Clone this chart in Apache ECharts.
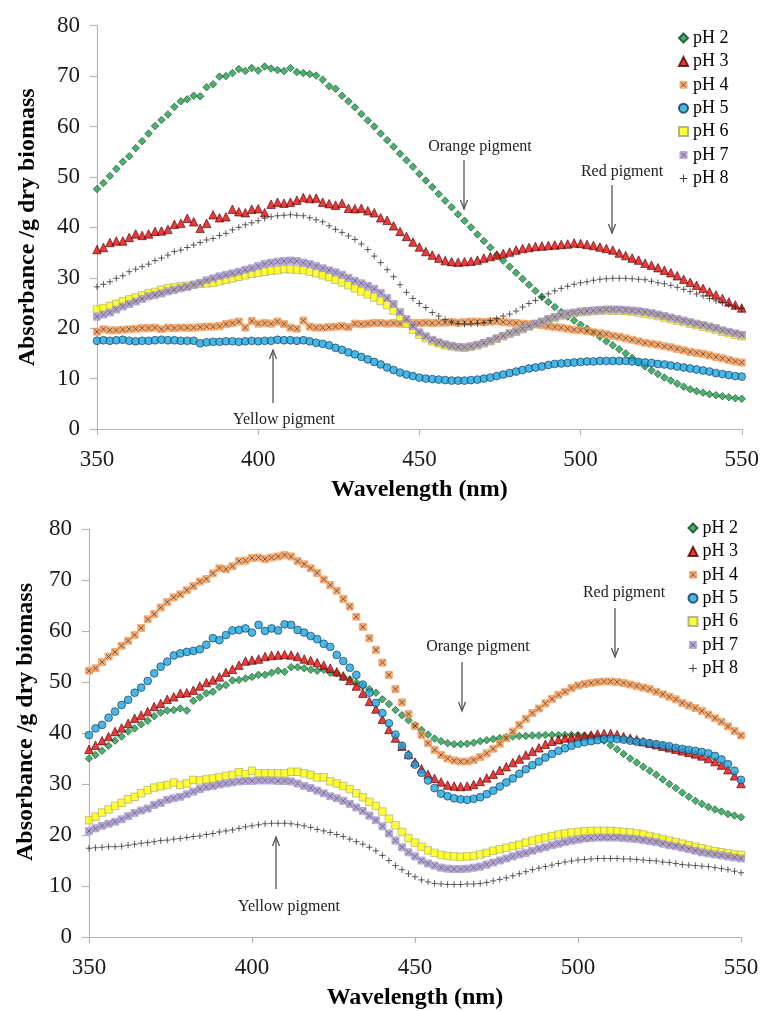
<!DOCTYPE html>
<html>
<head>
<meta charset="utf-8">
<script src="https://cdn.jsdelivr.net/npm/echarts/dist/echarts.min.js"></script>
<style>
html,body{margin:0;padding:0;background:#fff;}
#chart{width:762px;height:1011px;}
</style>
</head>
<body>
<div id="chart"></div>
<script>
// ---------- DATA ----------
const seriesNames = ['pH 2','pH 3','pH 4','pH 5','pH 6','pH 7','pH 8'];
const xTicks = [350, 400, 450, 500, 550];
const yTicks = [0, 10, 20, 30, 40, 50, 60, 70, 80];
// wavelength sampling grid, 350–550 nm every 2 nm
const wavelengths = [];
for (let w = 350; w <= 550; w += 2) wavelengths.push(w);

// Top panel
const topPH2 = [47.6,48.8,50.2,51.6,53.0,54.1,55.7,57.1,58.6,60.1,
61.3,62.4,63.9,65.0,65.4,66.1,66.0,67.8,68.4,69.9,
70.0,70.6,71.4,71.0,71.6,71.1,71.9,71.5,71.2,71.0,
71.6,70.8,70.6,70.4,70.1,69.3,68.0,67.5,66.1,65.0,
63.8,62.5,61.2,60.0,58.6,57.3,56.0,54.6,53.3,52.0,
50.6,49.3,48.0,46.6,45.3,44.0,42.6,41.3,40.0,38.6,
37.3,36.0,34.5,33.4,32.2,31.0,29.8,28.6,27.4,26.2,
25.2,24.2,23.2,22.3,21.5,20.7,19.9,19.1,18.3,17.4,
16.6,15.8,15.0,14.1,13.2,12.4,11.6,10.9,10.2,9.6,
9.0,8.4,7.9,7.5,7.2,6.9,6.7,6.5,6.3,6.1,
6.0];
const topPH3 = [35.6,36.0,37.0,37.3,37.3,38.0,38.7,38.4,38.7,39.2,
39.3,39.6,40.6,40.8,41.8,41.1,39.8,40.8,42.5,41.9,
42.1,43.6,43.1,42.9,43.6,43.7,42.9,44.6,45.0,44.8,
45.0,45.4,45.9,45.7,45.8,45.0,44.7,44.4,44.8,43.8,
43.7,43.8,43.3,42.9,41.9,41.4,40.3,39.2,38.2,37.1,
36.1,35.2,34.5,33.9,33.4,33.2,33.1,33.2,33.3,33.5,
33.9,34.2,34.5,34.8,35.1,35.5,35.8,36.0,36.2,36.3,
36.4,36.5,36.6,36.7,36.9,36.8,36.6,36.4,36.1,35.8,
35.5,34.9,34.4,33.9,33.5,32.9,32.5,32.0,31.5,31.0,
30.4,29.7,29.1,28.5,27.9,27.2,26.6,25.9,25.2,24.6,
24.0];
const topPH4 = [19.3,19.8,19.6,19.6,19.7,19.8,19.9,20.0,20.0,20.1,
19.8,20.1,20.0,20.1,20.1,20.1,20.2,20.3,20.3,20.4,
20.8,21.0,21.3,20.1,21.4,20.9,21.0,20.9,21.3,20.8,
20.1,19.9,21.5,20.3,20.1,20.1,20.2,20.3,20.4,20.2,
20.9,20.8,20.9,21.0,21.0,20.9,21.0,20.9,21.0,21.0,
21.0,21.1,21.0,21.1,21.1,21.2,21.1,21.2,21.3,21.3,
21.2,21.3,21.4,21.2,21.1,21.0,20.9,20.8,20.8,20.6,
20.4,20.2,20.1,19.9,19.7,19.6,19.4,19.2,19.0,18.8,
18.5,18.3,18.0,17.7,17.4,17.1,16.9,16.7,16.4,16.2,
15.9,15.6,15.3,15.1,14.9,14.6,14.3,14.0,13.7,13.4,
13.2];
const topPH5 = [17.5,17.6,17.5,17.6,17.7,17.5,17.4,17.5,17.5,17.6,
17.7,17.6,17.6,17.5,17.5,17.5,17.0,17.2,17.3,17.3,
17.4,17.4,17.3,17.4,17.5,17.4,17.5,17.5,17.7,17.6,
17.6,17.5,17.6,17.4,17.1,16.9,16.6,16.1,15.7,15.2,
14.8,14.3,13.8,13.3,12.8,12.2,11.7,11.2,10.8,10.5,
10.2,10.0,9.9,9.8,9.7,9.6,9.6,9.6,9.7,9.8,
10.0,10.2,10.5,10.8,11.1,11.4,11.7,12.0,12.2,12.4,
12.7,12.9,13.0,13.1,13.2,13.3,13.4,13.4,13.5,13.5,
13.5,13.5,13.5,13.4,13.3,13.2,13.1,12.9,12.8,12.6,
12.4,12.2,12.0,11.8,11.6,11.4,11.1,10.9,10.7,10.5,
10.4];
const topPH6 = [23.7,24.0,24.4,24.8,25.3,25.7,26.1,26.5,26.9,27.2,
27.6,27.9,28.1,28.3,28.4,28.6,28.8,28.9,29.0,29.3,
29.6,29.9,30.2,30.5,30.8,31.0,31.2,31.4,31.5,31.7,
31.7,31.6,31.5,31.2,30.9,30.5,30.1,29.6,29.1,28.5,
27.9,27.3,26.7,26.1,25.4,24.6,23.5,22.2,20.9,19.7,
18.7,18.0,17.4,17.0,16.6,16.4,16.2,16.1,16.3,16.6,
17.0,17.4,17.9,18.4,18.9,19.3,19.8,20.3,20.8,21.2,
21.7,22.1,22.5,22.8,23.0,23.2,23.3,23.4,23.5,23.5,
23.5,23.5,23.4,23.3,23.1,22.9,22.7,22.4,22.1,21.8,
21.5,21.2,20.9,20.6,20.3,20.0,19.7,19.3,19.0,18.7,
18.4];
const topPH7 = [22.3,22.7,23.1,23.7,24.3,24.8,25.3,25.8,26.3,26.6,
26.9,27.3,27.6,27.9,28.2,28.6,29.0,29.5,29.9,30.3,
30.6,30.9,31.2,31.6,31.9,32.3,32.7,33.0,33.2,33.3,
33.4,33.3,33.0,32.7,32.3,31.9,31.5,31.1,30.6,30.0,
29.4,28.9,28.4,27.8,27.0,26.0,24.8,23.2,21.8,20.4,
19.2,18.4,17.7,17.2,16.8,16.5,16.3,16.2,16.4,16.7,
17.1,17.5,18.0,18.5,19.0,19.4,19.9,20.4,20.9,21.3,
21.8,22.2,22.6,22.9,23.1,23.3,23.4,23.5,23.6,23.7,
23.7,23.7,23.6,23.5,23.4,23.2,23.0,22.7,22.4,22.1,
21.8,21.5,21.2,20.9,20.6,20.3,20.0,19.6,19.3,19.0,
18.7];
const topPH8 = [28.2,28.7,29.2,29.9,30.4,31.2,31.7,32.2,32.7,33.4,
33.9,34.5,35.2,35.5,36.0,36.5,37.0,37.5,37.8,38.4,
38.8,39.5,40.0,40.5,40.9,41.3,41.8,42.1,42.3,42.4,
42.5,42.4,42.3,41.9,41.5,41.1,40.3,39.6,39.0,38.3,
37.6,36.7,35.6,34.3,33.0,31.6,30.2,28.6,27.1,25.9,
24.9,24.1,23.1,22.4,21.7,21.2,20.9,20.8,20.8,20.9,
21.1,21.5,21.9,22.4,22.8,23.4,24.2,24.9,25.5,26.2,
26.8,27.4,27.9,28.3,28.7,29.0,29.2,29.5,29.7,29.8,
29.9,29.9,29.9,29.8,29.7,29.6,29.3,29.0,28.8,28.5,
28.1,27.7,27.3,26.8,26.4,25.9,25.4,25.0,24.6,24.2,
23.9];

// Bottom panel
const botPH2 = [35.0,35.7,36.5,37.5,38.5,39.3,40.3,40.9,41.7,42.4,
43.3,44.0,44.4,44.5,44.8,44.4,46.3,47.0,47.8,48.1,
49.0,49.4,50.3,50.4,50.7,51.0,51.4,51.4,51.8,52.2,
52.0,52.9,52.9,52.7,52.4,52.2,52.4,51.8,51.7,51.0,
50.5,49.9,49.2,48.6,47.9,46.6,45.7,44.5,43.5,42.5,
41.5,40.6,39.7,38.9,38.4,38.0,37.8,37.8,37.9,38.1,
38.4,38.6,38.8,39.0,39.2,39.3,39.4,39.4,39.5,39.5,
39.6,39.6,39.6,39.6,39.6,39.6,39.5,39.4,39.2,38.5,
37.6,36.8,35.9,35.0,34.2,33.4,32.6,31.8,30.9,30.0,
29.2,28.3,27.5,26.7,26.1,25.5,25.0,24.6,24.1,23.8,
23.5];
const botPH3 = [36.8,37.6,38.5,39.3,40.3,41.0,41.9,42.9,43.5,44.2,
45.2,45.8,46.6,47.1,47.8,47.9,48.4,49.2,49.9,50.4,
51.0,51.9,52.5,53.3,54.1,54.3,54.5,55.0,55.2,55.3,
55.4,55.3,55.0,54.5,54.2,53.8,53.3,52.7,52.0,51.2,
50.3,49.2,47.8,46.2,44.7,42.7,40.7,39.0,37.4,35.8,
34.3,33.0,31.9,31.1,30.4,29.8,29.6,29.5,29.6,29.9,
30.5,31.2,31.9,32.7,33.4,34.2,34.9,35.7,36.4,37.1,
37.8,38.4,38.7,39.0,39.2,39.3,39.4,39.6,39.8,39.9,
39.9,39.7,39.3,39.0,38.7,38.3,38.0,37.7,37.4,37.1,
36.8,36.5,36.2,35.9,35.5,35.0,34.4,33.7,32.8,31.6,
30.1];
const botPH4 = [52.2,52.7,53.9,55.0,55.9,57.1,58.1,59.2,60.6,62.3,
63.3,64.6,65.7,66.6,67.2,68.0,68.8,69.7,70.2,71.3,
72.3,72.1,72.7,73.7,73.8,74.3,74.4,74.1,74.4,74.6,
74.9,74.6,73.7,73.1,72.3,71.4,70.1,69.0,67.9,66.3,
64.8,62.8,60.8,58.6,56.3,53.8,51.4,48.6,46.0,43.7,
41.4,39.6,38.0,36.7,35.7,35.0,34.6,34.4,34.4,34.7,
35.3,36.0,36.9,37.9,39.0,40.3,41.6,42.8,43.9,44.8,
45.8,46.7,47.5,48.1,48.8,49.3,49.6,49.8,50.0,50.1,
50.1,50.0,49.8,49.5,49.2,48.9,48.6,48.1,47.6,47.1,
46.6,45.9,45.4,44.9,44.3,43.6,42.9,42.2,41.3,40.4,
39.5];
const botPH5 = [39.6,40.9,41.6,43.0,44.2,45.5,46.5,47.9,48.9,50.2,
51.7,53.0,54.0,55.2,55.6,55.9,56.1,56.4,57.3,58.6,
58.2,59.2,60.1,60.2,60.5,59.7,61.2,60.0,60.5,60.1,
61.3,61.2,60.2,59.7,59.0,58.4,57.5,56.9,55.3,54.1,
52.8,51.4,49.5,47.9,45.9,43.9,41.9,39.7,37.5,35.6,
33.8,32.2,30.7,29.2,28.1,27.6,27.2,27.0,26.9,27.1,
27.4,28.0,28.7,29.5,30.3,31.1,32.0,32.9,33.7,34.4,
35.2,35.9,36.5,37.0,37.5,37.9,38.2,38.4,38.6,38.8,
38.9,38.8,38.7,38.5,38.3,38.2,38.0,37.8,37.6,37.4,
37.1,36.9,36.7,36.5,36.3,36.0,35.5,34.8,33.9,32.6,
30.8];
const botPH6 = [22.9,23.6,24.4,25.0,25.7,26.3,27.0,27.5,28.2,28.8,
29.3,29.6,29.8,30.3,29.8,30.1,30.8,30.7,30.9,31.1,
31.3,31.6,31.8,32.3,31.9,32.6,32.1,32.1,32.1,32.1,
32.1,32.4,32.4,32.1,31.8,31.3,31.3,30.5,30.1,29.6,
29.0,28.2,27.4,26.5,25.7,24.6,23.2,21.9,20.6,19.4,
18.5,17.7,17.0,16.5,16.1,15.9,15.8,15.7,15.8,15.9,
16.2,16.5,16.9,17.2,17.5,17.8,18.1,18.5,18.9,19.2,
19.5,19.8,20.1,20.3,20.5,20.6,20.7,20.8,20.8,20.8,
20.8,20.7,20.6,20.5,20.3,20.1,19.8,19.5,19.2,18.9,
18.6,18.3,18.0,17.7,17.4,17.1,16.8,16.6,16.4,16.2,
16.1];
const botPH7 = [20.8,21.3,21.8,22.2,22.6,23.1,23.7,24.3,24.8,25.2,
25.9,26.3,26.9,27.2,27.5,28.0,28.5,29.0,29.4,29.6,
29.9,30.1,30.3,30.5,30.6,30.6,30.7,30.7,30.7,30.6,
30.6,30.5,30.1,29.6,29.2,28.7,28.2,27.6,27.2,26.7,
26.1,25.4,24.7,23.8,22.9,21.7,20.3,18.9,17.6,16.6,
15.8,15.0,14.4,14.0,13.6,13.4,13.3,13.3,13.4,13.6,
13.8,14.2,14.6,15.0,15.4,15.8,16.2,16.5,16.9,17.3,
17.6,18.0,18.3,18.6,18.9,19.1,19.3,19.4,19.5,19.5,
19.5,19.5,19.4,19.3,19.2,19.0,18.8,18.6,18.3,18.0,
17.8,17.5,17.2,16.9,16.6,16.4,16.2,16.0,15.8,15.6,
15.4];
const botPH8 = [17.4,17.5,17.6,17.7,17.7,17.8,18.0,18.2,18.4,18.5,
18.7,18.9,19.0,19.2,19.3,19.5,19.7,19.8,20.1,20.3,
20.6,20.8,21.0,21.3,21.6,21.8,22.0,22.2,22.3,22.3,
22.3,22.2,22.0,21.8,21.5,21.1,20.8,20.5,20.1,19.7,
19.2,18.7,18.2,17.6,16.9,16.0,15.0,14.0,13.2,12.4,
11.8,11.2,10.8,10.5,10.4,10.3,10.3,10.3,10.4,10.4,
10.5,10.7,11.0,11.3,11.6,12.0,12.4,12.8,13.2,13.5,
13.8,14.1,14.4,14.7,14.9,15.1,15.2,15.3,15.4,15.4,
15.4,15.4,15.3,15.3,15.2,15.1,15.0,14.9,14.7,14.6,
14.4,14.2,14.1,14.0,13.9,13.8,13.6,13.4,13.2,12.9,
12.6];

const topData = [topPH2, topPH3, topPH4, topPH5, topPH6, topPH7, topPH8];
const botData = [botPH2, botPH3, botPH4, botPH5, botPH6, botPH7, botPH8];

// ---------- STYLE ----------
const FONT = 'Liberation Serif';
function svgSym(svg){ return 'image://data:image/svg+xml;charset=utf-8,' + encodeURIComponent(svg); }
const xMark = (fill, stroke) => svgSym(
  '<svg xmlns="http://www.w3.org/2000/svg" width="20" height="20" viewBox="0 0 20 20">' +
  '<rect x="1" y="1" width="18" height="18" rx="3" fill="' + fill + '"/>' +
  '<path d="M4.5 4.5L15.5 15.5M15.5 4.5L4.5 15.5" stroke="' + stroke + '" stroke-width="2"/></svg>');
const plusMark = svgSym(
  '<svg xmlns="http://www.w3.org/2000/svg" width="20" height="20" viewBox="0 0 20 20">' +
  '<path d="M10 1.5V18.5M1.5 10H18.5" stroke="#111" stroke-width="2.3"/></svg>');

const styles = [
  {symbol:'diamond', size:7.5, item:{color:'#1F9D4C', borderColor:'#0A4A20', borderWidth:0.8}},
  {symbol:'triangle', size:8.5, item:{color:'#E30A0A', borderColor:'#4A0000', borderWidth:0.8}},
  {symbol:xMark('#F59B55', '#3B2010'), size:9, item:{color:'#F59B55'}},
  {symbol:'circle', size:7.8, item:{color:'#1AA5DF', borderColor:'#15324F', borderWidth:0.8}},
  {symbol:'rect', size:7.5, item:{color:'#FFFF00', borderColor:'#A3A37A', borderWidth:0.8}},
  {symbol:xMark('#A798CB', '#45356A'), size:9, item:{color:'#A798CB'}},
  {symbol:plusMark, size:7.5, item:{color:'#111'}}
];

const series = [];
[topData, botData].forEach((panel, p) => {
  panel.forEach((vals, k) => {
    series.push({
      type: 'scatter',
      name: seriesNames[k],
      xAxisIndex: p, yAxisIndex: p,
      symbol: styles[k].symbol,
      symbolSize: styles[k].size,
      itemStyle: styles[k].item,
      data: wavelengths.map((w, i) => [w, vals[i]])
    });
  });
});

const axisCol = '#B5B5B5';
function xAx(idx){
  return {
    type:'value', gridIndex:idx, min:xTicks[0], max:xTicks[xTicks.length-1], interval:50,
    name:'Wavelength (nm)', nameLocation:'middle', nameGap:49,
    nameTextStyle:{fontFamily:FONT, fontWeight:'bold', fontSize:24, color:'#000'},
    axisLine:{show:true, lineStyle:{color:axisCol, width:1.2}},
    axisTick:{show:true, inside:false, length:6, lineStyle:{color:axisCol, width:1.2}},
    axisLabel:{fontFamily:FONT, fontSize:23, color:'#1a1a1a', margin:19},
    splitLine:{show:false}
  };
}
function yAx(idx, gap, pad){
  return {
    type:'value', gridIndex:idx, min:yTicks[0], max:yTicks[yTicks.length-1], interval:10,
    name:'Absorbance /g dry biomass', nameLocation:'middle', nameGap:gap, nameRotate:90,
    nameTextStyle:{fontFamily:FONT, fontWeight:'bold', fontSize:24, color:'#000', padding:pad},
    axisLine:{show:true, lineStyle:{color:axisCol, width:1.2}},
    axisTick:{show:true, inside:false, length:7, lineStyle:{color:axisCol, width:1.2}},
    axisLabel:{fontFamily:FONT, fontSize:23, color:'#1a1a1a', margin:17},
    splitLine:{show:false}
  };
}

// annotation helpers (pixel layout)
const annCol = '#555';
function label(text, cx, cy){
  return {type:'text', x:cx, y:cy, style:{text:text, fontFamily:FONT, fontSize:16, fill:'#222', textAlign:'center', textVerticalAlign:'middle'}, z:100};
}
function arrow(x, yTail, yTip){
  const dir = yTip > yTail ? 1 : -1;
  return [
    {type:'line', shape:{x1:x, y1:yTail, x2:x, y2:yTip}, style:{stroke:annCol, lineWidth:1.3}, z:100},
    {type:'polyline', shape:{points:[[x-3.5, yTip-dir*9],[x, yTip],[x+3.5, yTip-dir*9]]}, style:{stroke:annCol, lineWidth:1.3, fill:null}, z:100}
  ];
}
const graphics = [
  label('Orange pigment', 480, 147), ...arrow(464, 160, 209),
  label('Red pigment', 622, 172), ...arrow(612, 185, 233),
  label('Yellow pigment', 284, 420), ...arrow(273, 403, 350),
  label('Orange pigment', 478, 647), ...arrow(462, 662, 711),
  label('Red pigment', 624, 593), ...arrow(615, 608, 657),
  label('Yellow pigment', 289, 907), ...arrow(276, 889, 837)
];

const legendCommon = {
  orient:'vertical', data:seriesNames, itemWidth:9, itemHeight:9, itemGap:4.4,
  textStyle:{fontFamily:FONT, fontSize:18, color:'#000', lineHeight:19},
  selectedMode:false, padding:0
};

const option = {
  animation:false,
  backgroundColor:'#fff',
  grid:[
    {left:97, top:25.7, width:645, height:403.3},
    {left:89, top:529, width:652, height:408}
  ],
  xAxis:[xAx(0), xAx(1)],
  yAxis:[yAx(0, 57, [0,0,0,0]), yAx(1, 51, [0,0,0,22])],
  legend:[
    Object.assign({left:678, top:28.5}, legendCommon),
    Object.assign({left:687.5, top:518.5}, legendCommon)
  ],
  graphic:graphics,
  series:series
};
const chart = echarts.init(document.getElementById('chart'));
chart.setOption(option);
</script>
</body>
</html>
